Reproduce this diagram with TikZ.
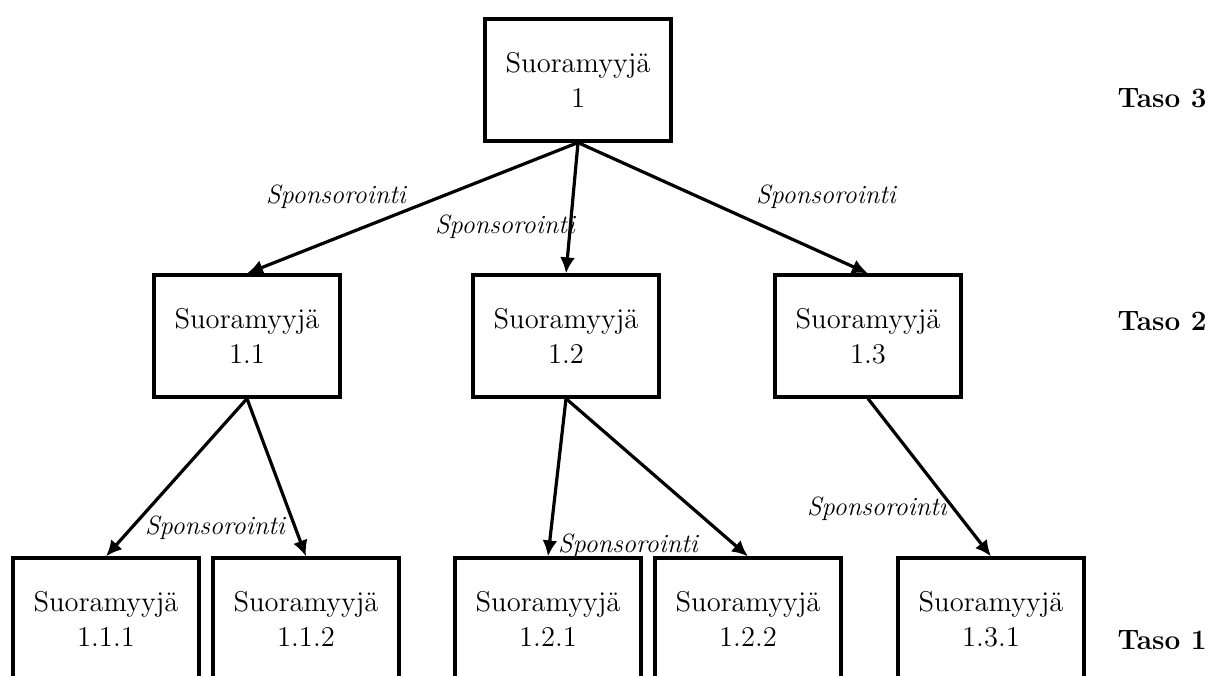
\documentclass[tikz,border=0pt]{standalone}
\usepackage{fontspec}
\usepackage{tikz}
\usetikzlibrary{arrows.meta}

\begin{document}
\begin{tikzpicture}[x=0.5pt,y=-0.5pt,
  myyja/.style={draw, line width=1.6pt, minimum width=93pt, minimum height=61pt,
    inner sep=0pt, align=center, font=\fontsize{14.3}{17.5}\selectfont},
  sponsor/.style={inner sep=0pt, font=\fontsize{13.2}{15}\selectfont\itshape},
  taso/.style={inner sep=0pt, font=\fontsize{14}{16}\selectfont\bfseries},
  linkki/.style={line width=1.6pt, -{Latex[length=8pt,width=7.5pt]}}]
\useasboundingbox (0,0) rectangle (1208,675);

% taso 3
\node[myyja] (m1) at (578,80) {Suoramyyjä\\1};
% taso 2
\node[myyja] (m11) at (247,336) {Suoramyyjä\\1.1};
\node[myyja] (m12) at (566,336) {Suoramyyjä\\1.2};
\node[myyja] (m13) at (868,336) {Suoramyyjä\\1.3};
% taso 1
\node[myyja] (m111) at (106,619) {Suoramyyjä\\1.1.1};
\node[myyja] (m112) at (306,619) {Suoramyyjä\\1.1.2};
\node[myyja] (m121) at (548,619) {Suoramyyjä\\1.2.1};
\node[myyja] (m122) at (748,619) {Suoramyyjä\\1.2.2};
\node[myyja] (m131) at (991,619) {Suoramyyjä\\1.3.1};

\draw[linkki] (m1.south) -- (m11.north);
\draw[linkki] (m1.south) -- (m12.north);
\draw[linkki] (m1.south) -- (m13.north);
\draw[linkki] (m11.south) -- (m111.north);
\draw[linkki] (m11.south) -- (m112.north);
\draw[linkki] (m12.south) -- (m121.north);
\draw[linkki] (m12.south) -- (m122.north);
\draw[linkki] (m13.south) -- (m131.north);

\node[sponsor] (s1) at (336,197) {Sponsorointi};
\node[sponsor] (s2) at (505,227) {Sponsorointi};
\node[sponsor] (s3) at (826,197) {Sponsorointi};
\node[sponsor] (s4) at (215,528) {Sponsorointi};
\node[sponsor] (s5) at (628,546) {Sponsorointi};
\node[sponsor] (s6) at (877,509) {Sponsorointi};

\node[taso] (t3) at (1162,98) {Taso 3};
\node[taso] (t2) at (1162,321) {Taso 2};
\node[taso] (t1) at (1162,640) {Taso 1};
\end{tikzpicture}
\end{document}
